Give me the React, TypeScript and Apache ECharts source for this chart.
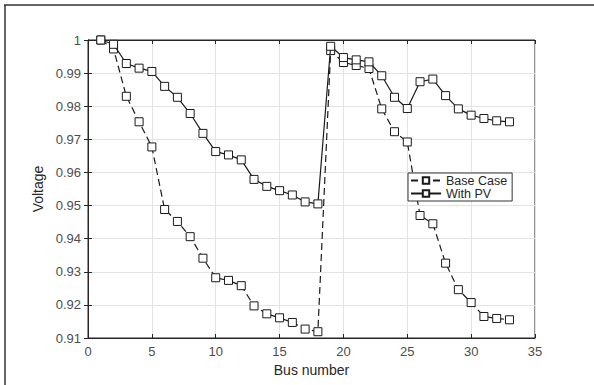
import React, { useEffect, useRef } from "react";
import * as echarts from "echarts";

const busNumbers = [1, 2, 3, 4, 5, 6, 7, 8, 9, 10, 11, 12, 13, 14, 15, 16, 17, 18, 19, 20, 21, 22, 23, 24, 25, 26, 27, 28, 29, 30, 31, 32, 33];
const baseCase = [1.0, 0.9973, 0.983, 0.9753, 0.9677, 0.9488, 0.9452, 0.9406, 0.9341, 0.9282, 0.9274, 0.9258, 0.9197, 0.9173, 0.9161, 0.9147, 0.9127, 0.9119, 0.9968, 0.9932, 0.9923, 0.9914, 0.9792, 0.9723, 0.9692, 0.947, 0.9445, 0.9326, 0.9246, 0.9207, 0.9165, 0.9159, 0.9155];
const withPV = [1.0, 0.9987, 0.9929, 0.9915, 0.9905, 0.986, 0.9827, 0.9778, 0.9718, 0.9663, 0.9653, 0.9638, 0.9579, 0.9558, 0.9545, 0.9532, 0.9511, 0.9505, 0.9981, 0.9947, 0.994, 0.9934, 0.9892, 0.9827, 0.9793, 0.9874, 0.9882, 0.9832, 0.9792, 0.9773, 0.9763, 0.9756, 0.9753];
const seriesNames = ["Base Case", "With PV"];
const xAxisName = "Bus number";
const yAxisName = "Voltage";

export default function App() {
  const ref = useRef<HTMLDivElement>(null);
  useEffect(() => {
    if (!ref.current) return;
    const chart = echarts.init(ref.current, null, { renderer: "svg" });
    const font = "'Liberation Sans', Arial, sans-serif";
    const lineColor = "#262626";
    const mk = (vals: number[]) => busNumbers.map((b, i) => [b, vals[i]]);
    chart.setOption({
      animation: false,
      backgroundColor: "#fff",
      textStyle: { fontFamily: font },
      grid: {
        left: 88,
        right: 59,
        top: 40,
        bottom: 47,
        show: true,
        borderColor: lineColor,
        borderWidth: 1,
      },
      graphic: [
        { type: "line", shape: { x1: 4, y1: 5, x2: 594, y2: 5 }, style: { stroke: "#333", lineWidth: 1.5 } },
        { type: "line", shape: { x1: 5, y1: 5, x2: 5, y2: 385 }, style: { stroke: "#333", lineWidth: 1.5 } },
      ],
      legend: {
        orient: "vertical",
        left: 408,
        top: 173,
        padding: [1, 5, 1, 2],
        itemGap: 0,
        itemWidth: 30,
        itemHeight: 8,
        borderColor: "#333",
        borderWidth: 1,
        backgroundColor: "#fff",
        borderRadius: 0,
        textStyle: { fontSize: 12.5, lineHeight: 13, color: "#262626", fontFamily: font },
        data: seriesNames,
      },
      xAxis: [
        {
          type: "value",
          min: 0,
          max: 35,
          interval: 5,
          name: xAxisName,
          nameLocation: "middle",
          nameGap: 25,
          nameTextStyle: { fontSize: 14, color: "#262626", fontFamily: font },
          axisLine: { show: true, lineStyle: { color: lineColor } },
          axisTick: { show: true, inside: true, length: 4, lineStyle: { color: lineColor } },
          axisLabel: { fontSize: 13, color: "#4d4d4d", margin: 7, fontFamily: font },
          splitLine: { show: true, lineStyle: { color: "#e3e3e3", width: 1 } },
        },
        {
          type: "value",
          position: "top",
          min: 0,
          max: 35,
          interval: 5,
          axisLine: { show: true, lineStyle: { color: lineColor } },
          axisTick: { show: true, inside: true, length: 4, lineStyle: { color: lineColor } },
          axisLabel: { show: false },
          splitLine: { show: false },
        },
      ],
      yAxis: [
        {
          type: "value",
          min: 0.91,
          max: 1,
          interval: 0.01,
          name: yAxisName,
          nameLocation: "middle",
          nameGap: 40,
          nameTextStyle: { fontSize: 14, color: "#262626", fontFamily: font },
          axisLine: { show: true, lineStyle: { color: lineColor } },
          axisTick: { show: true, inside: true, length: 4, lineStyle: { color: lineColor } },
          axisLabel: {
            fontSize: 13,
            color: "#4d4d4d",
            margin: 7,
            fontFamily: font,
            formatter: (v: number) => String(Number(v.toFixed(2))),
          },
          splitLine: { show: true, lineStyle: { color: "#e3e3e3", width: 1 } },
        },
        {
          type: "value",
          position: "right",
          min: 0.91,
          max: 1,
          interval: 0.01,
          axisLine: { show: true, lineStyle: { color: lineColor } },
          axisTick: { show: true, inside: true, length: 4, lineStyle: { color: lineColor } },
          axisLabel: { show: false },
          splitLine: { show: false },
        },
      ],
      series: [
        {
          name: seriesNames[0],
          type: "line",
          data: mk(baseCase),
          symbol: "rect",
          symbolSize: 8,
          lineStyle: { color: "#1a1a1a", width: 1.2, type: [7, 4] },
          itemStyle: { color: "#fff", borderColor: "#1a1a1a", borderWidth: 1 },
          z: 3,
        },
        {
          name: seriesNames[1],
          type: "line",
          data: mk(withPV),
          symbol: "rect",
          symbolSize: 8,
          lineStyle: { color: "#1a1a1a", width: 1.2 },
          itemStyle: { color: "#fff", borderColor: "#1a1a1a", borderWidth: 1 },
          z: 4,
        },
      ],
    });
    return () => chart.dispose();
  }, []);
  return <div ref={ref} style={{ width: 594, height: 385, position: "absolute", left: 0, top: 0 }} />;
}
